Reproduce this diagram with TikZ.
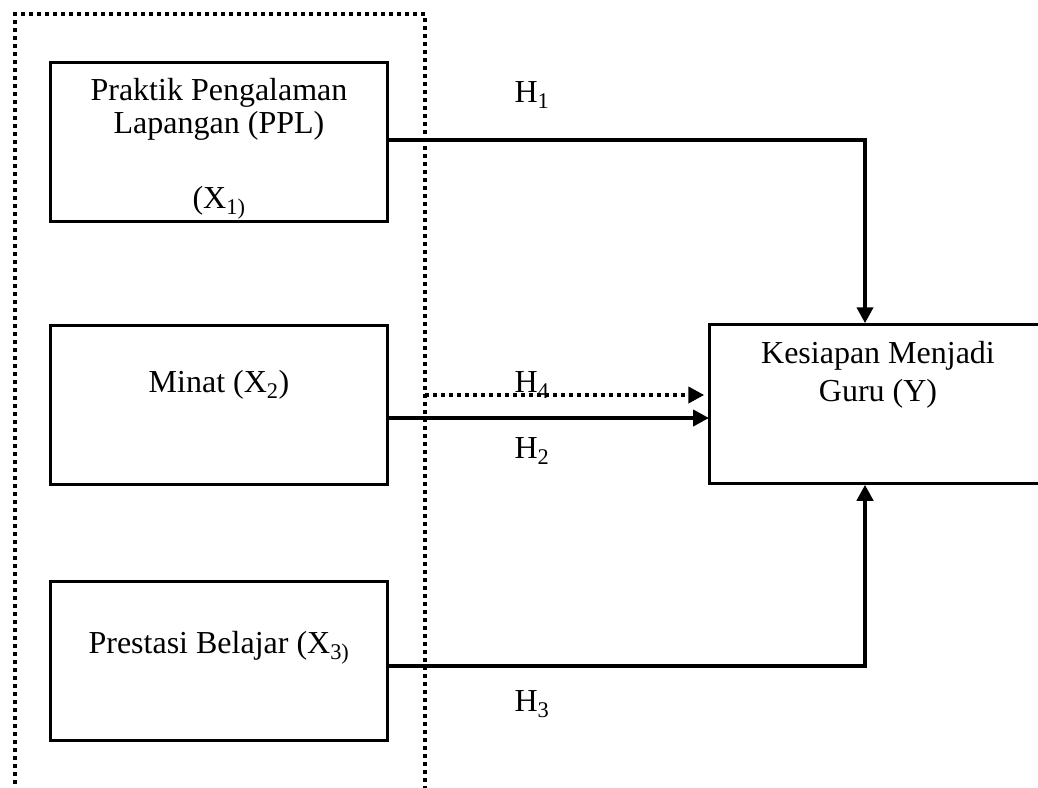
\documentclass[tikz,border=0pt]{standalone}
\usepackage{fontspec}
\setmainfont{Liberation Serif}
\usetikzlibrary{arrows.meta}
\begin{document}
\begin{tikzpicture}[x=1pt,y=-1pt,
	    kotak/.style={draw,line width=2.5pt,minimum width=337pt,minimum height=159pt,inner sep=0pt},
	    teks/.style={anchor=base,inner sep=0pt,font=\fontsize{32}{38}\selectfont},
	    panah/.style={line width=4pt,-{Triangle[length=16pt,width=16pt]}},
	    titik/.style={line width=4pt,dash pattern=on 4pt off 4pt}]
	    \useasboundingbox(0,0)rectangle(1038,787);
	    \clip(0,0)rectangle(1038,787);

	    % kotak variabel
	    \node[kotak](X1)at(219,142){};
	    \node[kotak](X2)at(219,405){};
	    \node[kotak](X3)at(219,661){};
	    \node[kotak](Y)at(878,404){};

	    % teks dalam kotak
	    \node[teks](tX1a)at(219,100){Praktik Pengalaman};
	    \node[teks](tX1b)at(219,133){Lapangan (PPL)};
	    \node[teks](tX1c)at(219,208){(X\textsubscript{1)}};
	    \node[teks](tX2)at(219,392){Minat (X\textsubscript{2})};
	    \node[teks](tX3)at(219,653){Prestasi Belajar (X\textsubscript{3)}};
	    \node[teks](tYa)at(878,363){Kesiapan Menjadi};
	    \node[teks](tYb)at(878,401){Guru (Y)};

	    % bingkai titik-titik
	    \coordinate(F1)at(15,800);
	    \coordinate(F2)at(15,14);
	    \coordinate(F3)at(425,14);
	    \coordinate(F4)at(425,800);
	    \draw[titik](F1)--(F2)--(F3)--(F4);

	    % titik belok
	    \coordinate(B1)at(865,140);
	    \coordinate(B2)at(709,418);
	    \coordinate(B3)at(865,666);
	    \coordinate(B4)at(425,395);

	    \draw[panah](X1.east|-B1)--(B1)--(Y.north-|B1);
	    \draw[panah](X2.east|-B2)--(B2);
	    \draw[panah](X3.east|-B3)--(B3)--(Y.south-|B3);
	    \draw[panah,titik,shorten >=4pt](B4)--(Y.west|-B4);

	    % label hipotesis
	    \node[teks](H1)at(532,102){H\textsubscript{1}};
	    \node[teks](H4)at(532,392){H\textsubscript{4}};
	    \node[teks](H2)at(532,458){H\textsubscript{2}};
	    \node[teks](H3)at(532,711){H\textsubscript{3}};
\end{tikzpicture}
\end{document}
